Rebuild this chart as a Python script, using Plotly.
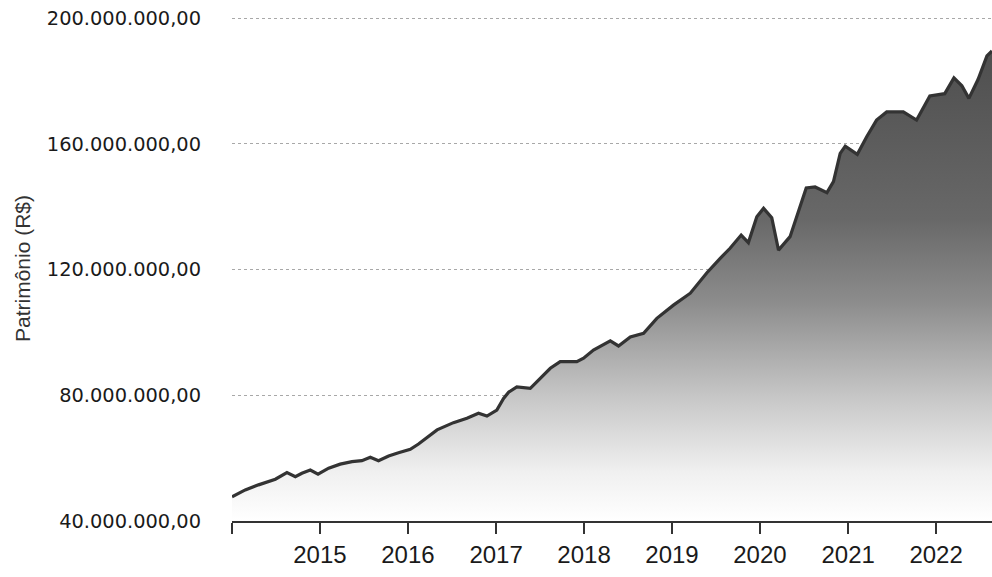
import plotly.graph_objects as go

dates = [
    "2014-01-01", "2014-02-25", "2014-04-21", "2014-06-30", "2014-08-17", "2014-09-21",
    "2014-10-18", "2014-11-22", "2014-12-24", "2015-02-06", "2015-03-26", "2015-05-14",
    "2015-06-24", "2015-07-29", "2015-09-01", "2015-10-13", "2015-11-23", "2016-01-11",
    "2016-02-14", "2016-03-10", "2016-05-01", "2016-07-08", "2016-09-02", "2016-10-20",
    "2016-11-24", "2017-01-04", "2017-02-01", "2017-02-22", "2017-03-28", "2017-05-23",
    "2017-07-03", "2017-08-14", "2017-09-24", "2017-12-02", "2017-12-30", "2018-02-09",
    "2018-04-20", "2018-05-24", "2018-07-12", "2018-09-05", "2018-10-30", "2019-01-07",
    "2019-03-18", "2019-05-26", "2019-07-20", "2019-08-30", "2019-10-15", "2019-11-14",
    "2019-12-19", "2020-01-16", "2020-02-19", "2020-03-18", "2020-05-05", "2020-06-16",
    "2020-07-11", "2020-08-17", "2020-10-05", "2020-11-01", "2020-11-29", "2020-12-20",
    "2021-02-08", "2021-03-19", "2021-04-29", "2021-06-10", "2021-08-18", "2021-10-12",
    "2021-12-06", "2022-02-06", "2022-03-16", "2022-04-18", "2022-05-17", "2022-06-24",
    "2022-07-31", "2022-08-21",
]

patrimonio_mi = [
    47.7, 49.9, 51.5, 53.3, 55.4, 54.1,
    55.2, 56.2, 54.9, 56.8, 58.1, 58.9,
    59.2, 60.3, 59.2, 60.7, 61.7, 62.8,
    64.5, 66.0, 69.0, 71.3, 72.7, 74.3,
    73.4, 75.3, 79.0, 81.0, 82.7, 82.2,
    85.4, 88.6, 90.7, 90.7, 91.8, 94.4,
    97.3, 95.7, 98.6, 99.7, 104.5, 108.7,
    112.5, 119.0, 123.6, 126.8, 131.0, 128.6,
    136.8, 139.5, 136.5, 126.2, 130.5, 140.0,
    146.0, 146.3, 144.5, 148.0, 157.0, 159.3,
    156.7, 162.3, 167.6, 170.2, 170.2, 167.6,
    175.3, 176.0, 181.0, 178.5, 174.5, 180.5,
    188.0, 189.6,
]
patrimonio = [v * 1e6 for v in patrimonio_mi]

y_ticks = [40e6, 80e6, 120e6, 160e6, 200e6]
y_tick_labels = ["40.000.000,00", "80.000.000,00", "120.000.000,00",
                 "160.000.000,00", "200.000.000,00"]

x_ticks = ["2014-01-01", "2015-01-01", "2016-01-01", "2017-01-01", "2018-01-01",
           "2019-01-01", "2020-01-01", "2021-01-01", "2022-01-01"]
x_tick_labels = ["", "2015", "2016", "2017", "2018", "2019", "2020", "2021", "2022"]

fig = go.Figure()
fig.add_trace(go.Scatter(
    x=dates, y=patrimonio, mode="lines",
    line=dict(color="#333333", width=3.2),
    fill="tozeroy",
    fillgradient=dict(
        type="vertical", start=40e6, stop=195e6,
        colorscale=[[0, "#ffffff"], [0.1, "#f0f0f0"], [0.25, "#c8c8c8"],
                    [0.45, "#8c8c8c"], [0.62, "#686868"], [1, "#4c4c4c"]],
    ),
    hoverinfo="x+y",
    showlegend=False,
))

fig.update_layout(
    width=992, height=577,
    margin=dict(l=232, r=0, t=17, b=56),
    paper_bgcolor="white", plot_bgcolor="white",
    showlegend=False,
    annotations=[dict(
        text="Patrimônio (R$)", textangle=-90,
        xref="paper", yref="paper", x=-0.2763, y=0.5,
        xanchor="center", yanchor="middle", showarrow=False,
        font=dict(family="Liberation Sans, Arial, sans-serif", size=21, color="#333"),
    )],
)
fig.update_xaxes(
    range=["2014-01-01", "2022-08-21"],
    tickvals=x_ticks, ticktext=x_tick_labels,
    ticks="outside", ticklen=11, tickwidth=2, tickcolor="#333",
    showline=True, linecolor="#333", linewidth=2,
    showgrid=False, zeroline=False, automargin=False,
    tickfont=dict(family="Liberation Sans, Arial, sans-serif", size=24, color="#1a1a1a"),
    ticklabelstandoff=0,
)
fig.update_yaxes(
    range=[40e6, 200.4e6],
    tickvals=y_ticks, ticktext=y_tick_labels,
    showline=False, zeroline=False, automargin=False,
    showgrid=True, gridcolor="#a8a8a8", griddash="dot", gridwidth=1,
    tickfont=dict(family="DejaVu Sans, Verdana, sans-serif", size=19.4, color="#1a1a1a"),
    ticklabelstandoff=30,
)

fig.write_html("out.html", config={"displayModeBar": False},
               post_script="document.body.style.margin='0';")
